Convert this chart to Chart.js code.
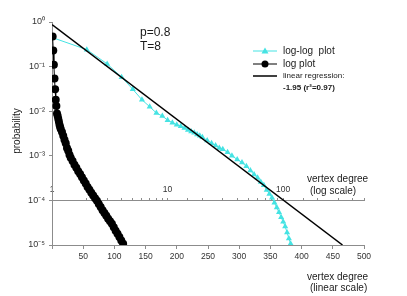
<!DOCTYPE html>
<html>
<head>
<meta charset="utf-8">
<script src="https://cdn.jsdelivr.net/npm/chart.js@4.4.0/dist/chart.umd.min.js"></script>
<style>
  html, body { margin: 0; padding: 0; background: #fff; }
  #wrap { width: 407px; height: 296px; }
</style>
</head>
<body>
<div id="wrap"><canvas id="c" width="407" height="296"></canvas></div>
<script>
// "log plot" (black circles) - degree on the linear axis
const linDegree = [1, 2, 3, 4, 5, 6, 7, 8, 9, 10, 11, 12, 13, 14, 16, 18, 20, 22, 24, 26, 28, 30,
  33, 36, 39, 42, 45, 48, 51, 54, 57, 60, 63, 66, 69, 72, 75, 78, 81, 84, 87, 90, 93, 96, 99,
  102, 105, 108, 111, 114];
const linProb = [0.47, 0.23, 0.11, 0.054, 0.031, 0.018, 0.013, 0.0089, 0.0079, 0.0068, 0.0059,
  0.0050, 0.0044, 0.0040, 0.0034, 0.0028, 0.0023, 0.0019, 0.0015, 0.0013, 0.00105, 9.1e-4,
  7.6e-4, 6.3e-4, 5.4e-4, 4.5e-4, 3.9e-4, 3.3e-4, 2.8e-4, 2.4e-4, 2.0e-4, 1.74e-4, 1.48e-4,
  1.29e-4, 1.12e-4, 9.8e-5, 8.3e-5, 7.1e-5, 6.0e-5, 5.2e-5, 4.5e-5, 3.9e-5, 3.4e-5, 3.0e-5,
  2.5e-5, 2.1e-5, 1.78e-5, 1.51e-5, 1.26e-5, 1.07e-5];

// "log-log plot" (cyan triangles) - degree on the log axis
const logDegree = [1, 2, 3, 4, 5, 6, 7, 8, 9, 10, 11, 12, 13, 14, 15, 16, 17, 18, 19, 20, 22, 24,
  26, 28, 30, 33, 36, 40, 44, 48, 52, 56, 60, 64, 68, 72, 76, 80, 84, 88, 92, 96, 100, 104,
  108, 112, 116];
const logProb = [0.45, 0.24, 0.115, 0.058, 0.031, 0.018, 0.0126, 0.0091, 0.0078, 0.0063, 0.0055,
  0.0050, 0.0046, 0.0042, 0.0038, 0.0035, 0.0033, 0.0030, 0.0028, 0.0026, 0.0022, 0.0019,
  0.0017, 0.0015, 0.0014, 0.0012, 0.0010, 8.3e-4, 7.1e-4, 5.8e-4, 4.7e-4, 3.8e-4, 3.2e-4,
  2.6e-4, 2.2e-4, 1.7e-4, 1.4e-4, 1.15e-4, 8.9e-5, 6.9e-5, 5.4e-5, 4.2e-5, 3.3e-5, 2.6e-5,
  1.9e-5, 1.4e-5, 1.07e-5];

// linear regression line (slope -1.95)
const fitDegree = [1, 326];
const fitProb = [0.88, 1.0e-5];

const yTicks = [1, 1e-1, 1e-2, 1e-3, 1e-4, 1e-5];
const yTickLabels = ['10⁰', '10⁻¹', '10⁻²', '10⁻³', '10⁻⁴', '10⁻⁵'];
const linTicks = [0, 50, 100, 150, 200, 250, 300, 350, 400, 450, 500];
const logTickLabels = ['1', '10', '100'];

const grey = '#8c8c8c';
const cyan = '#45e3e3';
const family = 'Arial, "Liberation Sans", sans-serif';

const toPoints = (xs, ys) => xs.map((x, i) => ({ x: x, y: ys[i] }));

// texts and legend drawn on top
const notes = {
  id: 'notes',
  afterDraw(chart) {
    const ctx = chart.ctx;
    ctx.save();
    ctx.fillStyle = '#1a1a1a';
    ctx.textBaseline = 'middle';
    ctx.textAlign = 'left';

    ctx.font = '12px ' + family;
    ctx.fillText('p=0.8', 140, 33);
    ctx.fillText('T=8', 140, 47);

    // legend
    const lx0 = 253, lx1 = 277, mx = 265, tx = 283;
    ctx.lineWidth = 1;
    ctx.strokeStyle = cyan;
    ctx.beginPath(); ctx.moveTo(lx0, 51); ctx.lineTo(lx1, 51); ctx.stroke();
    ctx.fillStyle = cyan;
    ctx.beginPath(); ctx.moveTo(mx, 47.5); ctx.lineTo(mx + 3.5, 53.5); ctx.lineTo(mx - 3.5, 53.5);
    ctx.closePath(); ctx.fill();

    ctx.strokeStyle = '#000';
    ctx.beginPath(); ctx.moveTo(lx0, 64); ctx.lineTo(lx1, 64); ctx.stroke();
    ctx.fillStyle = '#000';
    ctx.beginPath(); ctx.arc(mx, 64, 3.5, 0, Math.PI * 2); ctx.fill();

    ctx.lineWidth = 1.5;
    ctx.beginPath(); ctx.moveTo(lx0, 76); ctx.lineTo(lx1, 76); ctx.stroke();

    ctx.fillStyle = '#1a1a1a';
    ctx.font = '10px ' + family;
    ctx.fillText('log-log  plot', tx, 51);
    ctx.fillText('log plot', tx, 64);
    ctx.font = '8px ' + family;
    ctx.fillText('linear regression:', tx, 76);
    ctx.font = 'bold 8px ' + family;
    ctx.fillText('-1.95 (r²=0.97)', tx, 88);

    // axis titles
    ctx.font = '10px ' + family;
    ctx.fillText('vertex degree', 307, 179);
    ctx.fillText('(log scale)', 310, 191);
    ctx.fillText('vertex degree', 307, 277);
    ctx.fillText('(linear scale)', 310, 288);

    ctx.translate(17, 131);
    ctx.rotate(-Math.PI / 2);
    ctx.textAlign = 'center';
    ctx.fillText('probability', 0, 0);
    ctx.restore();
  }
};

new Chart(document.getElementById('c'), {
  type: 'scatter',
  data: {
    datasets: [
      {
        label: 'linear regression',
        data: toPoints(fitDegree, fitProb),
        xAxisID: 'xlog',
        showLine: true,
        borderColor: '#000',
        borderWidth: 1.5,
        pointRadius: 0
      },
      {
        label: 'log plot',
        data: toPoints(linDegree, linProb),
        xAxisID: 'x',
        showLine: true,
        borderColor: '#000',
        backgroundColor: '#000',
        borderWidth: 1,
        pointStyle: 'circle',
        pointRadius: 4,
        pointBorderWidth: 0
      },
      {
        label: 'log-log plot',
        data: toPoints(logDegree, logProb),
        xAxisID: 'xlog',
        showLine: true,
        borderColor: cyan,
        backgroundColor: cyan,
        borderWidth: 1,
        pointStyle: 'triangle',
        pointRadius: 3.5,
        pointBorderWidth: 0
      }
    ]
  },
  options: {
    responsive: false,
    animation: false,
    devicePixelRatio: 1,
    layout: { padding: { top: 22, right: 43, left: 0, bottom: 0 } },
    plugins: { legend: { display: false }, tooltip: { enabled: false } },
    scales: {
      x: {
        type: 'linear',
        position: 'bottom',
        min: 0,
        max: 500,
        afterBuildTicks: s => { s.ticks = linTicks.map(v => ({ value: v })); },
        afterFit: s => { s.height = 51; },
        ticks: {
          autoSkip: false,
          maxRotation: 0,
          padding: 3,
          color: '#333',
          font: { size: 8.5, family: family },
          callback: v => (v === 0 ? '' : String(v))
        },
        grid: { drawOnChartArea: false, tickLength: 4, color: grey },
        border: { color: grey }
      },
      xlog: {
        type: 'logarithmic',
        position: { y: 1e-4 },
        min: 1,
        max: 500,
        ticks: {
          autoSkip: false,
          maxRotation: 0,
          padding: -13,
          color: '#333',
          font: { size: 8.5, family: family },
          callback: v => (logTickLabels.includes(String(v)) ? String(v) : '')
        },
        grid: { drawOnChartArea: false, tickLength: -3, color: grey },
        border: { color: grey }
      },
      y: {
        type: 'logarithmic',
        position: 'left',
        min: 1e-5,
        max: 1,
        afterBuildTicks: s => { s.ticks = yTicks.map(v => ({ value: v })); },
        afterFit: s => { s.width = 52; },
        ticks: {
          autoSkip: false,
          padding: 4,
          color: '#333',
          font: { size: 9, family: family },
          callback: (v, i) => yTickLabels[i]
        },
        grid: { drawOnChartArea: false, tickLength: 3, color: grey },
        border: { color: grey }
      }
    }
  },
  plugins: [notes]
});
</script>
</body>
</html>
